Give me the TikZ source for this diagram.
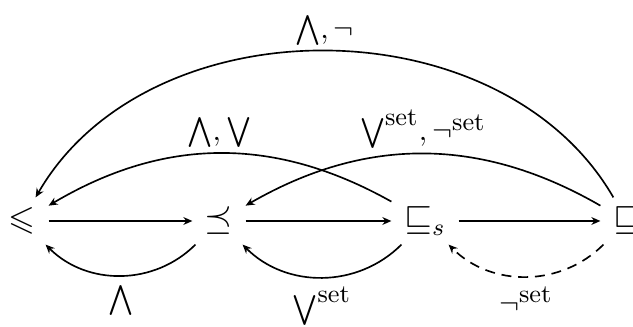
\documentclass[tikz,border=0pt]{standalone}
\usepackage{amsmath,amssymb}
\usetikzlibrary{arrows.meta}
\newcommand{\setsup}{\text{\fontsize{8.5}{10}\selectfont set}}
\begin{document}
\begin{tikzpicture}[x=0.3333pt,y=-0.3333pt,
  rel/.style={inner sep=0pt, minimum width=17.33pt, minimum height=15.33pt, font=\fontsize{11.5}{13}\selectfont},
  arr/.style={-{Stealth[length=3pt,width=2.6pt]}, line width=0.55pt},
  dsh/.style={dash pattern=on 3.3pt off 2.3pt},
  up/.style={above, inner sep=1.5pt},
  dn/.style={below, inner sep=3pt}]
\useasboundingbox (0,0) rectangle (633,327);
\node[rel] (le) at (22,221) {$\leqslant$};
\node[rel] (pr) at (219,221) {$\preceq$};
\node[rel, minimum width=22pt] (ss) at (425,221) {$\sqsubseteq_s$};
\node[rel] (sq) at (627,221) {$\sqsubseteq$};
\draw[arr] (le) -- (pr);
\draw[arr] (pr) -- (ss);
\draw[arr] (ss) -- (sq);
\draw[arr] (pr) to[bend left=45] node[dn] (l1) {$\bigwedge$} (le);
\draw[arr] (ss) to[bend left=45] node[dn] (l2) {$\bigvee^{\setsup}$} (pr);
\draw[arr, dsh] (sq) to[bend left=45] node[dn] (l3) {$\neg^{\setsup}$} (ss);
\draw[arr] (ss) to[bend right=30] node[up] (l4) {$\bigwedge, \bigvee$} (le);
\draw[arr] (sq) to[bend right=30] node[up] (l5) {$\bigvee^{\setsup}, \neg^{\setsup}$} (pr);
\draw[arr] (sq) to[bend right=60] node[up] (l6) {$\bigwedge, \neg$} (le);
\end{tikzpicture}
\end{document}
